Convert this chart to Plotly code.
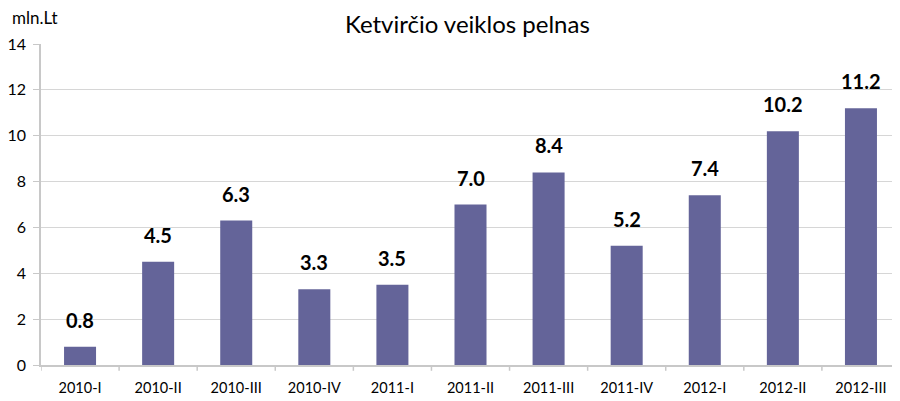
import plotly.graph_objects as go

categories = ["2010-I", "2010-II", "2010-III", "2010-IV", "2011-I", "2011-II",
              "2011-III", "2011-IV", "2012-I", "2012-II", "2012-III"]
values = [0.8, 4.5, 6.3, 3.3, 3.5, 7.0, 8.4, 5.2, 7.4, 10.2, 11.2]
value_labels = [f"{v:.1f}" for v in values]
y_ticks = [0, 2, 4, 6, 8, 10, 12, 14]

FONT = "Lato, Carlito, Open Sans, sans-serif"
xpos = list(range(len(categories)))

fig = go.Figure(go.Bar(
    x=xpos, y=values,
    marker=dict(color="#646499", line=dict(width=0)),
    width=0.41,
    hoverinfo="x+y",
))

for xi, v, lab in zip(xpos, values, value_labels):
    fig.add_annotation(x=xi, y=v, text=f"<b>{lab}</b>", showarrow=False,
                       xanchor="center", yanchor="middle", yshift=27,
                       font=dict(family=FONT, size=20, color="#000000"))

# page body has an 8px margin, so figure is 892x393 to fill the 900x401 window
fig.update_layout(
    width=892, height=393,
    margin=dict(l=33, r=0, t=36, b=36, autoexpand=False),
    paper_bgcolor="white", plot_bgcolor="white",
    showlegend=False,
    title=dict(text="Ketvirčio veiklos pelnas", x=0.515, xanchor="center",
               y=0.957, yanchor="middle",
               font=dict(family=FONT, size=24, color="#000000")),
    font=dict(family=FONT, size=14, color="#000000"),
    xaxis=dict(
        tickmode="array", tickvals=xpos, ticktext=categories,
        range=[-0.5, 10.5], showgrid=False, zeroline=False, automargin=False,
        showline=True, linecolor="#c8c8c8", linewidth=1.5,
        ticks="", tickfont=dict(size=14.5), ticklabelstandoff=9,
        ticklabeloverflow="allow",
    ),
    yaxis=dict(
        range=[0, 14], tickvals=y_ticks, showgrid=True, gridcolor="#d6d6d6", gridwidth=1,
        zeroline=False, showline=True, linecolor="#c8c8c8", linewidth=1.5, automargin=False,
        ticks="outside", ticklen=6, tickcolor="#c8c8c8", tickfont=dict(size=16),
        ticklabelstandoff=4,
    ),
)

# category boundary tick marks on x axis (right edge left open as in the reference)
for i in range(len(categories)):
    xb = i - 0.5
    fig.add_shape(type="line", xref="x", yref="paper", x0=xb, x1=xb, y0=0, y1=-0.018,
                  line=dict(color="#c8c8c8", width=1.5))

fig.add_annotation(text="mln.Lt", xref="paper", yref="paper", x=-0.036, y=1.084,
                   xanchor="left", yanchor="middle", showarrow=False,
                   font=dict(family=FONT, size=17, color="#000000"))

fig.write_html("out.html")
